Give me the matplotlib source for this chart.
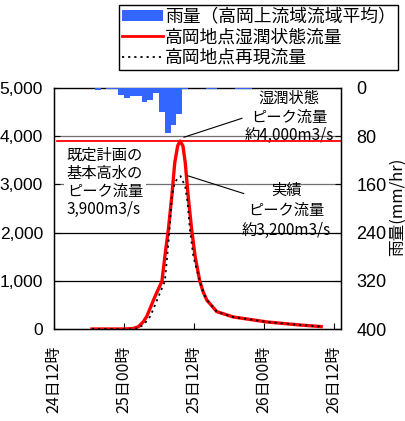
import numpy as np
import matplotlib
matplotlib.use("Agg")
import matplotlib.pyplot as plt
from matplotlib.patches import Patch
from matplotlib.lines import Line2D

plt.rcParams['font.family'] = ['Noto Sans CJK JP', 'DejaVu Sans']

# hours counted from 24日12時
xtick_hours = [0, 12, 24, 36, 48]
xtick_labels = ["24日12時", "25日00時", "25日12時", "26日00時", "26日12時"]

# hourly basin-average rainfall (mm/hr), bar starts at the given hour
rain_hours = list(range(7, 35))
rain = [3, 0, 1, 1, 12, 17, 14, 14, 24, 20, 8, 40, 74, 62, 43, 1,
        0, 0, 0, 1, 1, 0, 0, 0, 1, 1, 1, 0]

# wet-condition discharge (m3/s)
wet_hours = [6.5, 12.0, 13.6, 14.5, 15.3, 15.9, 17.3, 18.5, 19.0, 19.6, 20.2,
             20.7, 21.2, 21.6, 22.1, 22.5, 23.0, 23.6, 24.2, 25.0, 25.6, 26.2,
             27.9, 30.7, 36.5, 42.2, 45.8]
wet_flow = [0, 0, 10, 50, 150, 260, 670, 990, 1500, 2060, 2760,
            3450, 3800, 3900, 3800, 3450, 2760, 2060, 1500, 990, 760, 600,
            360, 250, 146, 83, 50]

# reproduced discharge (m3/s)
rep_hours = [6.5, 12.0, 13.9, 15.3, 16.5, 17.9, 19.0, 19.4, 19.8, 20.2, 20.7,
             21.3, 21.7, 22.5, 22.9, 23.3, 23.9, 25.0, 25.6, 26.2, 27.9, 30.7,
             36.5, 42.2, 45.8]
rep_flow = [0, 0, 0, 80, 260, 670, 990, 1500, 2060, 2760, 3040,
            3140, 3170, 2960, 2620, 2060, 1500, 990, 760, 600, 360, 250,
            146, 83, 50]

plan_peak = 3900

fig = plt.figure(figsize=(4.05, 4.21), dpi=100)
ax = fig.add_axes([54 / 405, 92 / 421, 287 / 405, 241 / 421])
ax2 = ax.twinx()

# grid
for v in [1000, 2000, 3000, 4000]:
    ax.axhline(v, color='black' if v < 2500 else '#707070', lw=0.9, zorder=1)

# planned peak line (kept above the white text box)
ax.axhline(plan_peak, xmin=0.01, xmax=1, color='red', lw=1.3, zorder=7)

ax.plot(rep_hours, rep_flow, color='black', ls=(0, (1.2, 2.2)), lw=1.3, zorder=4)
ax.plot(wet_hours, wet_flow, color='red', lw=2.4, zorder=3)

ax.set_xlim(0, 49.2)
ax.set_ylim(0, 5000)
ax.set_xticks(xtick_hours)
ax.set_xticklabels(xtick_labels, rotation=90, fontsize=11.5)
ax.set_yticks([0, 1000, 2000, 3000, 4000, 5000])
ax.set_yticklabels(["0", "1,000", "2,000", "3,000", "4,000", "5,000"],
                   family='Liberation Sans', fontsize=12.5)
ax.tick_params(axis='x', direction='in', length=4, pad=12)
ax.tick_params(axis='y', direction='in', length=4, pad=8)

# rainfall on inverted right axis
ax2.bar(np.array(rain_hours) + 0.5, rain, width=1.0, color='#3366ff', zorder=5)
ax2.set_ylim(400, 0)
ax2.set_yticks([0, 80, 160, 240, 320, 400])
ax2.set_yticklabels(["0", "80", "160", "240", "320", "400"],
                    family='Liberation Sans', fontsize=13)
ax2.tick_params(axis='y', direction='in', length=4, pad=11)
ax2.spines['top'].set_visible(False)
for s in ax.spines.values():
    s.set_linewidth(1.0)

fig.text(397 / 405, 1 - 207 / 421, "雨量(mm/hr)", rotation=90,
         ha='center', va='center', fontsize=12)

# annotations
ax.text(2.2, 3040, "既定計画の\n基本高水の\nピーク流量\n3,900m3/s", ha='left',
        va='center', fontsize=11, linespacing=1.08, zorder=6,
        bbox=dict(boxstyle='square,pad=0.2', fc='white', ec='none'))

i = int(np.argmax(wet_flow))
ax.annotate("", xy=(wet_hours[i] + 0.2, wet_flow[i] + 60), xytext=(32.7, 4390),
            arrowprops=dict(arrowstyle='-', color='black', lw=0.8))
ax.text(40.3, 4400, "湿潤状態\nピーク流量\n約4,000m3/s", ha='center', va='center',
        fontsize=11, linespacing=1.15)

j = int(np.argmax(rep_flow))
ax.annotate("", xy=(rep_hours[j] + 0.7, rep_flow[j] + 30), xytext=(33.0, 2792),
            arrowprops=dict(arrowstyle='-', color='black', lw=0.8))
ax.text(39.8, 2460, "実績\nピーク流量\n約3,200m3/s", ha='center', va='center',
        fontsize=11, linespacing=1.2)

handles = [Patch(facecolor='#3366ff', edgecolor='none'),
           Line2D([], [], color='red', lw=2),
           Line2D([], [], color='black', ls=(0, (1.2, 2.2)), lw=1.3)]
labels = ["雨量（高岡上流域流域平均）", "高岡地点湿潤状態流量", "高岡地点再現流量"]
leg = fig.legend(handles, labels, loc='upper right',
                 bbox_to_anchor=(398 / 405, 1 - 5 / 421), fontsize=12.8,
                 fancybox=False, edgecolor='black', framealpha=1,
                 handlelength=2.3, handleheight=0.6, handletextpad=0.1,
                 labelspacing=0.15, borderpad=0.15, borderaxespad=0)
leg.get_frame().set_linewidth(1.0)

fig.savefig("out.png", dpi=100)
